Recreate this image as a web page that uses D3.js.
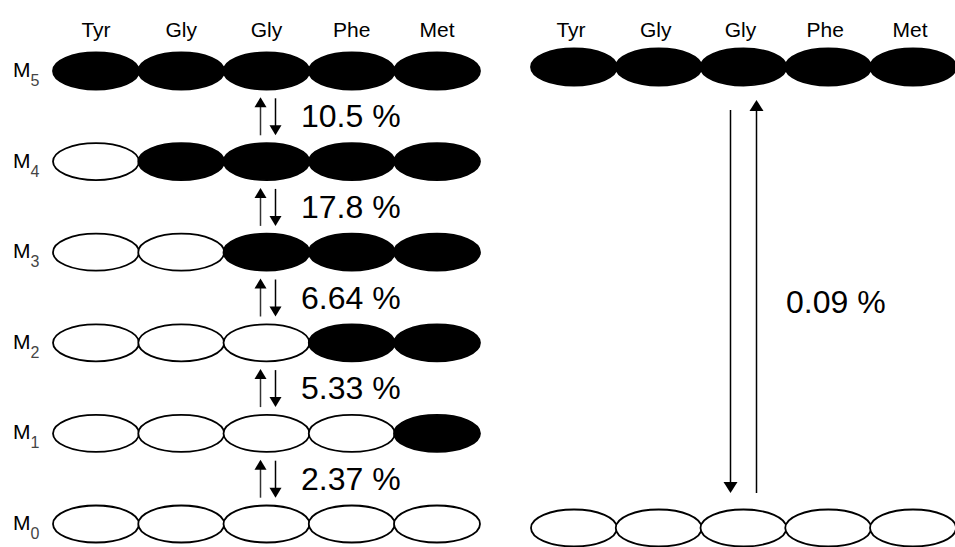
<!DOCTYPE html>
<html lang="en">
  <head>
    <meta charset="utf-8">
    <title>Tyr-Gly-Gly-Phe-Met labelling states</title>
    <script src="https://d3js.org/d3.v7.min.js"></script>
    <style>
      body { margin: 0; background: #fff; }
      text { font-family: "Liberation Sans", Arial, sans-serif; }
    </style>
  </head>
  <body>
    <div id='container' style="width:955px; height:547px"></div>
    <script>
      width = 955;
      height = 547;

      // peptide residues and labelling states
      residues = ["Tyr", "Gly", "Gly", "Phe", "Met"];
      states = ["5", "4", "3", "2", "1", "0"];
      labelled = [5, 4, 3, 2, 1, 0];     // number of filled residues per state
      stepRates = ["10.5", "17.8", "6.64", "5.33", "2.37"];
      directRate = "0.09";
      rightStates = ["5", "0"];
      rightLabelled = [5, 0];

      rx = 43, ry = 18.5;

      x = d3.scalePoint()
        .domain(d3.range(residues.length))
        .range([96, 437]);
      y = d3.scalePoint()
        .domain(states)
        .range([71, 524]);
      x2 = d3.scalePoint()
        .domain(d3.range(residues.length))
        .range([574, 913]);
      y2 = d3.scalePoint()
        .domain(rightStates)
        .range([67, 528]);

      // filled if residue index is among the last n
      isFilled = (i, n) => i >= residues.length - n;

      arrowHead = (cx, tipY, dir, w, h) =>
        `M${cx},${tipY}L${cx - w / 2},${tipY - dir * h}L${cx + w / 2},${tipY - dir * h}Z`;

      chart = (function(){
        const svg = d3.create("svg")
            .attr("width", width)
            .attr("height", height)
            .attr("viewBox", [0, 0, width, height]);

        // column headers
        svg.append("g")
            .attr("font-size", 21)
            .attr("text-anchor", "middle")
          .selectAll("text")
          .data(residues)
          .join("text")
            .attr("x", (d, i) => x(i))
            .attr("y", 37)
            .text(d => d);
        svg.append("g")
            .attr("font-size", 21)
            .attr("text-anchor", "middle")
          .selectAll("text")
          .data(residues)
          .join("text")
            .attr("x", (d, i) => x2(i) - 3)
            .attr("y", 37)
            .text(d => d);

        // left ladder rows
        const rows = svg.append("g")
          .selectAll("g")
          .data(states.map((s, k) => ({s, n: labelled[k]})))
          .join("g")
            .attr("transform", d => `translate(0,${y(d.s)})`);

        rows.selectAll("ellipse")
          .data(d => residues.map((r, i) => ({i, n: d.n})))
          .join("ellipse")
            .attr("cx", d => x(d.i))
            .attr("cy", 0)
            .attr("rx", rx)
            .attr("ry", ry)
            .attr("fill", d => isFilled(d.i, d.n) ? "#000" : "#fff")
            .attr("stroke", "#000")
            .attr("stroke-width", 1.8);

        const lab = rows.append("text")
            .attr("x", 13)
            .attr("y", 6)
            .attr("font-size", 21);
        lab.append("tspan").text("M");
        lab.append("tspan")
            .attr("font-size", 16)
            .attr("dy", 9)
            .attr("fill", "#444")
            .text(d => d.s);

        // step arrows between rows
        const steps = svg.append("g")
          .selectAll("g")
          .data(stepRates.map((r, k) => ({r, mid: (y(states[k]) + y(states[k + 1])) / 2})))
          .join("g");

        const ux = x(2) - 6, dx = x(2) + 9;
        steps.append("line")
            .attr("x1", ux).attr("x2", ux)
            .attr("y1", d => d.mid - 10).attr("y2", d => d.mid + 19)
            .attr("stroke", "#333").attr("stroke-width", 1.5);
        steps.append("path")
            .attr("d", d => arrowHead(ux, d.mid - 19, -1, 12, 10))
            .attr("fill", "#000");
        steps.append("line")
            .attr("x1", dx).attr("x2", dx)
            .attr("y1", d => d.mid - 18).attr("y2", d => d.mid + 10)
            .attr("stroke", "#000").attr("stroke-width", 1.5);
        steps.append("path")
            .attr("d", d => arrowHead(dx, d.mid + 19, 1, 12, 10))
            .attr("fill", "#000");
        steps.append("text")
            .attr("x", 301)
            .attr("y", d => d.mid + 11)
            .attr("font-size", 32)
            .text(d => d.r + " %");

        // right: direct exchange between M5 and M0
        const rrows = svg.append("g")
          .selectAll("g")
          .data(rightStates.map((s, k) => ({s, n: rightLabelled[k]})))
          .join("g")
            .attr("transform", d => `translate(0,${y2(d.s)})`);
        rrows.selectAll("ellipse")
          .data(d => residues.map((r, i) => ({i, n: d.n})))
          .join("ellipse")
            .attr("cx", d => x2(d.i))
            .attr("cy", 0)
            .attr("rx", rx)
            .attr("ry", ry)
            .attr("fill", d => isFilled(d.i, d.n) ? "#000" : "#fff")
            .attr("stroke", "#000")
            .attr("stroke-width", 1.8);

        const top = y2("5"), bot = y2("0");
        const rdx = x2(2) - 13, rux = x2(2) + 13;
        svg.append("line")
            .attr("x1", rdx).attr("x2", rdx)
            .attr("y1", top + 43).attr("y2", bot - 42)
            .attr("stroke", "#000").attr("stroke-width", 1.5);
        svg.append("path")
            .attr("d", arrowHead(rdx, bot - 35, 1, 14, 11))
            .attr("fill", "#000");
        svg.append("line")
            .attr("x1", rux).attr("x2", rux)
            .attr("y1", top + 42).attr("y2", bot - 35)
            .attr("stroke", "#000").attr("stroke-width", 1.5);
        svg.append("path")
            .attr("d", arrowHead(rux, top + 33, -1, 14, 11))
            .attr("fill", "#000");
        svg.append("text")
            .attr("x", 786)
            .attr("y", 313)
            .attr("font-size", 32)
            .text(directRate + " %");

        return svg.node();
      })();

      d3.select('#container').append(() => chart);
    </script>
  </body>
</html>
